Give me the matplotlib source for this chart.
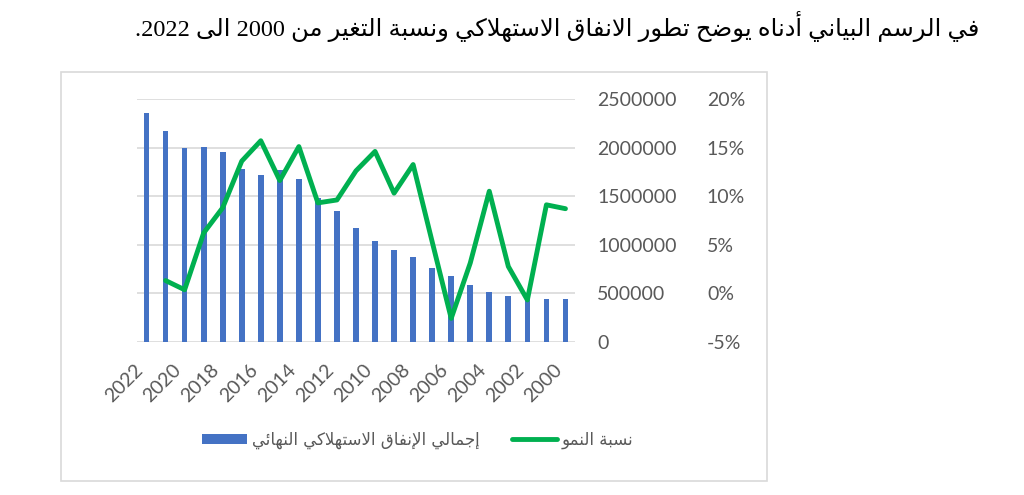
import re
import matplotlib
matplotlib.use('Agg')
import matplotlib.pyplot as plt
from matplotlib.patches import Rectangle
from matplotlib.ticker import FuncFormatter

# بيانات الرسم
years = list(range(2022, 1999, -1))
consumption = [2360000, 2170000, 1995000, 2005000, 1955000, 1775000, 1715000, 1765000,
               1675000, 1480000, 1345000, 1170000, 1040000, 947000, 868000, 755000,
               675000, 586000, 513000, 472000, 455000, 444000, 438000]
growth = [None, 1.3, 0.35, 6.2, 8.8, 13.6, 15.7, 11.6, 15.1, 9.3, 9.6, 12.6,
          14.6, 10.3, 13.25, 5.3, -2.6, 3.1, 10.5, 2.75, -0.7, 9.1, 8.7]
xtick_years = years[::2]

title = 'في الرسم البياني أدناه يوضح تطور الانفاق الاستهلاكي ونسبة التغير من 2000 الى 2022.'
bar_label = 'إجمالي الإنفاق الاستهلاكي النهائي'
line_label = 'نسبة النمو'

# matplotlib لا يدعم تشكيل الحروف العربية، لذلك نحولها يدويا إلى أشكال العرض
AR = {
    'ء': (0xFE80, False), 'آ': (0xFE81, False), 'أ': (0xFE83, False), 'ؤ': (0xFE85, False),
    'إ': (0xFE87, False), 'ئ': (0xFE89, True), 'ا': (0xFE8D, False), 'ب': (0xFE8F, True),
    'ة': (0xFE93, False), 'ت': (0xFE95, True), 'ث': (0xFE99, True), 'ج': (0xFE9D, True),
    'ح': (0xFEA1, True), 'خ': (0xFEA5, True), 'د': (0xFEA9, False), 'ذ': (0xFEAB, False),
    'ر': (0xFEAD, False), 'ز': (0xFEAF, False), 'س': (0xFEB1, True), 'ش': (0xFEB5, True),
    'ص': (0xFEB9, True), 'ض': (0xFEBD, True), 'ط': (0xFEC1, True), 'ظ': (0xFEC5, True),
    'ع': (0xFEC9, True), 'غ': (0xFECD, True), 'ف': (0xFED1, True), 'ق': (0xFED5, True),
    'ك': (0xFED9, True), 'ل': (0xFEDD, True), 'م': (0xFEE1, True), 'ن': (0xFEE5, True),
    'ه': (0xFEE9, True), 'و': (0xFEED, False), 'ى': (0xFEEF, False), 'ي': (0xFEF1, True),
}
LAM_ALEF = {'آ': 0xFEF5, 'أ': 0xFEF7, 'إ': 0xFEF9, 'ا': 0xFEFB}


def rtl(text):
    out = []
    i = 0
    while i < len(text):
        c = text[i]
        if c not in AR:
            out.append(c)
            i += 1
            continue
        prev = text[i - 1] if i > 0 else ''
        joined_before = prev in AR and AR[prev][1] and c != 'ء'
        if c == 'ل' and i + 1 < len(text) and text[i + 1] in LAM_ALEF:
            out.append(chr(LAM_ALEF[text[i + 1]] + joined_before))
            i += 2
            continue
        nxt = text[i + 1] if i + 1 < len(text) else ''
        joined_after = AR[c][1] and nxt in AR and nxt != 'ء'
        base = AR[c][0]
        if joined_before and joined_after:
            form = base + 3
        elif joined_before:
            form = base + 1
        elif joined_after:
            form = base + 2
        else:
            form = base
        out.append(chr(form))
        i += 1
    s = ''.join(out)[::-1]
    return re.sub(r'[0-9]+', lambda m: m.group()[::-1], s)


plt.rcParams['font.family'] = ['Lato', 'DejaVu Sans']
plt.rcParams['axes.unicode_minus'] = False

grey = '#595959'
grid_c = '#D9D9D9'

fig = plt.figure(figsize=(10.24, 4.95), dpi=100)

# إطار المخطط
fig.patches.append(Rectangle((61 / 1024, 1 - 481 / 495), 706 / 1024, 409 / 495,
                             transform=fig.transFigure, fill=False,
                             edgecolor=grid_c, linewidth=1.2))

ax = fig.add_axes([0.1338, 0.3097, 0.4277, 0.4903])
bars = ax.bar(years, consumption, width=0.3, color='#4472C4', label=rtl(bar_label), zorder=2)
ax.set_xlim(2022.5, 1999.5)
ax.set_ylim(0, 2500000)
ax.set_yticks(range(0, 2500001, 500000))
ax.yaxis.set_major_formatter(FuncFormatter(lambda v, _: f'{v:.0f}'))
ax.grid(axis='y', color=grid_c, linewidth=1.2)
ax.set_axisbelow(True)
ax.set_xticks(xtick_years)
ax.set_xticklabels([str(y) for y in xtick_years], rotation=45, ha='right')
ax.tick_params(axis='x', length=0, pad=14, labelsize=14, labelcolor=grey)
for s in ax.spines.values():
    s.set_visible(False)

ax2 = ax.twinx()
line, = ax2.plot(years, growth, color='#00B050', linewidth=3.5,
                 solid_joinstyle='round', solid_capstyle='round', label=rtl(line_label))
ax2.set_ylim(-5, 20)
ax2.set_yticks(range(-5, 21, 5))
ax2.yaxis.set_major_formatter(FuncFormatter(lambda v, _: f'{v:.0f}%'))
ax2.tick_params(axis='y', length=0, pad=95, labelsize=14, labelcolor=grey)
for s in ax2.spines.values():
    s.set_visible(False)

# المحور الأساسي أيضا على اليمين (twinx يعيده إلى اليسار)
ax.yaxis.tick_right()
ax.tick_params(axis='y', length=0, pad=16, labelsize=14, labelcolor=grey)

leg = fig.legend([bars, line], [rtl(bar_label), rtl(line_label)], loc='center',
                 bbox_to_anchor=(418 / 1024, 1 - 440 / 495), ncol=2, frameon=False,
                 prop={'family': 'DejaVu Sans', 'size': 12},
                 handlelength=2.7, handleheight=0.6, handletextpad=0.3, columnspacing=1.9)
for t in leg.get_texts():
    t.set_color(grey)

fig.text(979 / 1024, 1 - 27 / 495, rtl(title), ha='right', va='center', fontsize=17.5,
         family=['Liberation Serif', 'DejaVu Sans'], color='black')

fig.savefig('out.png', dpi=100)
